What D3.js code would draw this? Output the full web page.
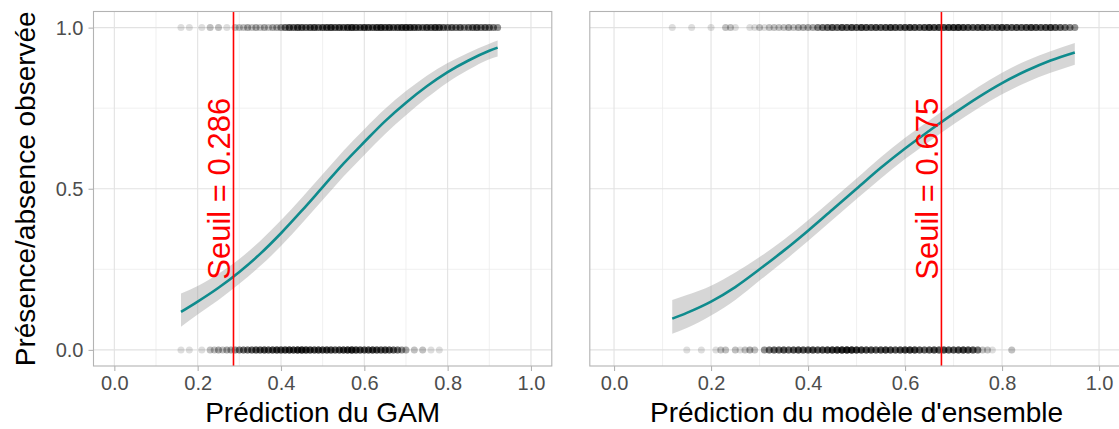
<!DOCTYPE html>
<html><head><meta charset="utf-8">
<script src="https://cdn.jsdelivr.net/npm/d3@7"></script>
<style>
html,body{margin:0;padding:0;background:#fff;}
svg{display:block;font-family:"Liberation Sans",Arial,Helvetica,sans-serif;}
</style></head>
<body>
<svg id="chart" width="1119" height="429"></svg>
<script>
// ---------- data ----------
const xTicks = [0, 0.2, 0.4, 0.6, 0.8, 1.0];
const xMinor = [0.1, 0.3, 0.5, 0.7, 0.9];
const yTicks = [0, 0.5, 1.0];
const yMinor = [0.25, 0.75];
const xTitleGam = "Prédiction du GAM";
const xTitleEns = "Prédiction du modèle d'ensemble";
const yTitle = "Présence/absence observée";
const seuilGam = 0.286;
const seuilEns = 0.675;

// GAM fitted curve + confidence band
const gamX     = [0.16, 0.20, 0.25, 0.30, 0.35, 0.40, 0.45, 0.50, 0.55, 0.60, 0.65, 0.70, 0.75, 0.80, 0.85, 0.90, 0.92];
const gamFit   = [0.118,0.150,0.193,0.242,0.298,0.362,0.432,0.505,0.578,0.645,0.710,0.767,0.818,0.862,0.898,0.928,0.938];
const gamLow   = [0.072,0.110,0.155,0.205,0.260,0.322,0.392,0.465,0.538,0.605,0.670,0.728,0.782,0.830,0.869,0.902,0.910];
const gamHigh  = [0.175,0.198,0.236,0.282,0.338,0.402,0.472,0.545,0.618,0.685,0.748,0.803,0.851,0.890,0.922,0.950,0.960];

// Ensemble fitted curve + confidence band
const ensX     = [0.12, 0.15, 0.20, 0.25, 0.30, 0.35, 0.40, 0.45, 0.50, 0.55, 0.60, 0.65, 0.70, 0.75, 0.80, 0.85, 0.90, 0.95];
const ensFit   = [0.097,0.115,0.150,0.195,0.250,0.308,0.370,0.435,0.500,0.565,0.625,0.680,0.733,0.783,0.828,0.866,0.898,0.923];
const ensLow   = [0.050,0.068,0.107,0.155,0.215,0.275,0.338,0.403,0.468,0.532,0.592,0.647,0.700,0.749,0.793,0.830,0.860,0.885];
const ensHigh  = [0.155,0.170,0.199,0.240,0.288,0.342,0.402,0.467,0.532,0.598,0.658,0.712,0.765,0.815,0.860,0.897,0.927,0.952];

// Observations (prediction rounded to 0.01, number of sites)
const gamPresX = [0.16,0.18,0.21,0.23,0.25,0.27,0.29,0.30,0.31,0.32,0.33,0.34,0.35,0.36,0.37,0.38,0.39,0.40,0.41,0.42,0.43,0.44,0.45,0.46,0.47,0.48,0.49,0.50,0.51,0.52,0.53,0.54,0.55,0.56,0.57,0.58,0.59,0.60,0.61,0.62,0.63,0.64,0.65,0.66,0.67,0.68,0.69,0.70,0.71,0.72,0.73,0.74,0.75,0.76,0.77,0.78,0.79,0.80,0.81,0.82,0.83,0.84,0.85,0.86,0.87,0.88,0.89,0.90,0.91,0.92];
const gamPresN = [1,1,1,2,2,1,2,2,2,3,2,3,2,3,2,3,3,4,6,8,7,9,8,7,8,9,7,8,9,10,8,9,8,10,11,9,8,10,9,8,10,11,9,10,8,9,10,11,10,9,8,7,9,8,10,9,7,6,7,6,7,5,6,7,8,6,7,6,5,4];
const gamAbsX  = [0.16,0.18,0.21,0.23,0.24,0.25,0.26,0.27,0.28,0.29,0.30,0.31,0.32,0.33,0.34,0.35,0.36,0.37,0.38,0.39,0.40,0.41,0.42,0.43,0.44,0.45,0.46,0.47,0.48,0.49,0.50,0.51,0.52,0.53,0.54,0.55,0.56,0.57,0.58,0.59,0.60,0.61,0.62,0.63,0.64,0.65,0.66,0.67,0.68,0.69,0.70,0.72,0.74,0.76,0.78];
const gamAbsN  = [1,1,1,2,2,3,2,3,3,4,5,6,6,7,8,8,9,8,9,10,9,10,11,10,12,13,11,10,9,10,9,10,9,8,9,10,11,13,10,9,8,9,10,9,8,9,8,7,6,4,3,2,2,1,1];
const ensPresX = [0.12,0.16,0.20,0.23,0.24,0.25,0.28,0.29,0.30,0.31,0.32,0.33,0.34,0.35,0.36,0.37,0.38,0.39,0.40,0.41,0.42,0.43,0.44,0.45,0.46,0.47,0.48,0.49,0.50,0.51,0.52,0.53,0.54,0.55,0.56,0.57,0.58,0.59,0.60,0.61,0.62,0.63,0.64,0.65,0.66,0.67,0.68,0.69,0.70,0.71,0.72,0.73,0.74,0.75,0.76,0.77,0.78,0.79,0.80,0.81,0.82,0.83,0.84,0.85,0.86,0.87,0.88,0.89,0.90,0.91,0.92,0.93,0.94,0.95];
const ensPresN = [1,1,1,2,2,1,1,1,2,1,2,2,2,2,3,2,3,3,3,3,5,6,7,8,7,9,8,9,8,10,9,8,9,8,9,10,9,8,9,10,9,8,9,11,9,10,9,10,11,12,10,9,8,9,10,9,8,9,10,9,8,9,8,9,10,9,8,9,10,8,7,6,5,4];
const ensAbsX  = [0.15,0.18,0.21,0.22,0.23,0.25,0.26,0.27,0.28,0.29,0.31,0.32,0.33,0.34,0.35,0.36,0.37,0.38,0.39,0.40,0.41,0.42,0.43,0.44,0.45,0.46,0.47,0.48,0.49,0.50,0.51,0.52,0.53,0.54,0.55,0.56,0.57,0.58,0.59,0.60,0.61,0.62,0.63,0.64,0.65,0.66,0.67,0.68,0.69,0.70,0.71,0.72,0.73,0.74,0.75,0.76,0.77,0.78,0.82];
const ensAbsN  = [1,1,1,2,2,2,1,2,3,2,4,6,7,7,8,7,8,9,8,8,9,8,9,10,11,12,13,14,13,11,10,9,9,8,9,10,9,8,9,10,11,10,8,7,8,9,8,9,8,8,9,10,9,8,6,2,2,1,2];

// ---------- drawing ----------
const svg = d3.select("#chart");
const y = d3.scaleLinear().domain([-0.05, 1.05]).range([366, 11.5]);

function panel(cfg) {
  const x = d3.scaleLinear().domain([-0.05, 1.05]).range(cfg.range);
  const [x0, x1] = cfg.range;
  const g = svg.append("g");
  const clipId = "clip" + cfg.id;
  svg.append("clipPath").attr("id", clipId).append("rect")
    .attr("x", x0).attr("y", y(1.05)).attr("width", x1 - x0).attr("height", y(-0.05) - y(1.05));
  const inner = g.append("g").attr("clip-path", `url(#${clipId})`);

  // grid
  inner.selectAll(".vmin").data(xMinor).join("line")
    .attr("x1", d => x(d)).attr("x2", d => x(d)).attr("y1", y(1.05)).attr("y2", y(-0.05))
    .attr("stroke", "#ececec").attr("stroke-width", 0.8);
  inner.selectAll(".hmin").data(yMinor).join("line")
    .attr("y1", d => y(d)).attr("y2", d => y(d)).attr("x1", x0).attr("x2", x1)
    .attr("stroke", "#ececec").attr("stroke-width", 0.8);
  inner.selectAll(".vmaj").data(xTicks).join("line")
    .attr("x1", d => x(d)).attr("x2", d => x(d)).attr("y1", y(1.05)).attr("y2", y(-0.05))
    .attr("stroke", "#e2e2e2").attr("stroke-width", 1.1);
  inner.selectAll(".hmaj").data(yTicks).join("line")
    .attr("y1", d => y(d)).attr("y2", d => y(d)).attr("x1", x0).attr("x2", x1)
    .attr("stroke", "#e2e2e2").attr("stroke-width", 1.1);

  // points
  function pts(xs, ns, yv) {
    const flat = [];
    xs.forEach((v, i) => { for (let k = 0; k < ns[i]; k++) flat.push(v); });
    inner.append("g").selectAll("circle").data(flat).join("circle")
      .attr("cx", d => x(d)).attr("cy", y(yv)).attr("r", 3.5)
      .attr("fill", "#000").attr("fill-opacity", 0.13);
  }
  pts(cfg.presX, cfg.presN, 1);
  pts(cfg.absX, cfg.absN, 0);

  // ribbon + line
  const idx = d3.range(cfg.cx.length);
  inner.append("path").datum(idx)
    .attr("d", d3.area().curve(d3.curveMonotoneX).x(i => x(cfg.cx[i])).y0(i => y(cfg.lo[i])).y1(i => y(cfg.hi[i])))
    .attr("fill", "#999").attr("fill-opacity", 0.4);
  inner.append("path").datum(idx)
    .attr("d", d3.line().curve(d3.curveMonotoneX).x(i => x(cfg.cx[i])).y(i => y(cfg.fit[i])))
    .attr("fill", "none").attr("stroke", "#0f8b8d").attr("stroke-width", 2.6);

  // threshold
  inner.append("line").attr("x1", x(cfg.seuil)).attr("x2", x(cfg.seuil))
    .attr("y1", y(1.05)).attr("y2", y(-0.05)).attr("stroke", "#ff0000").attr("stroke-width", 1.6);
  g.append("text")
    .attr("transform", `translate(${x(cfg.seuil) - 3},${y(0.5)}) rotate(-90)`)
    .attr("text-anchor", "middle").attr("fill", "#ff0000").attr("font-size", 31)
    .text("Seuil = " + cfg.seuil.toFixed(3));

  // border
  g.append("rect").attr("x", x0).attr("y", y(1.05)).attr("width", x1 - x0).attr("height", y(-0.05) - y(1.05))
    .attr("fill", "none").attr("stroke", "#b3b3b3").attr("stroke-width", 1.1);

  // x axis
  const xa = g.append("g").attr("transform", `translate(0,${y(-0.05)})`)
    .call(d3.axisBottom(x).tickValues(xTicks).tickFormat(d3.format(".1f")).tickSize(5).tickPadding(5));
  xa.select(".domain").remove();
  xa.selectAll("line").attr("stroke", "#b3b3b3").attr("stroke-width", 1.1);
  xa.selectAll("text").attr("fill", "#4d4d4d").attr("font-size", 20)
    .attr("font-family", "Liberation Sans, Arial, sans-serif");
  g.append("text").attr("x", (x(0) + x(1)) / 2).attr("y", 422)
    .attr("text-anchor", "middle").attr("font-size", 28).attr("fill", "#000").text(cfg.title);

  if (cfg.yaxis) {
    const ya = g.append("g").attr("transform", `translate(${x0},0)`)
      .call(d3.axisLeft(y).tickValues(yTicks).tickFormat(d3.format(".1f")).tickSize(5).tickPadding(5));
    ya.select(".domain").remove();
    ya.selectAll("line").attr("stroke", "#b3b3b3").attr("stroke-width", 1.1);
    ya.selectAll("text").attr("fill", "#4d4d4d").attr("font-size", 20)
      .attr("font-family", "Liberation Sans, Arial, sans-serif");
    g.append("text").attr("transform", `translate(35,${y(0.5)}) rotate(-90)`)
      .attr("text-anchor", "middle").attr("font-size", 28).attr("fill", "#000").text(yTitle);
  }
}

panel({id: "gam", range: [93.5, 551.8], yaxis: true, title: xTitleGam, seuil: seuilGam,
  cx: gamX, fit: gamFit, lo: gamLow, hi: gamHigh,
  presX: gamPresX, presN: gamPresN, absX: gamAbsX, absN: gamAbsN});
panel({id: "ens", range: [589.8, 1123.3], yaxis: false, title: xTitleEns, seuil: seuilEns,
  cx: ensX, fit: ensFit, lo: ensLow, hi: ensHigh,
  presX: ensPresX, presN: ensPresN, absX: ensAbsX, absN: ensAbsN});
</script>
</body></html>
